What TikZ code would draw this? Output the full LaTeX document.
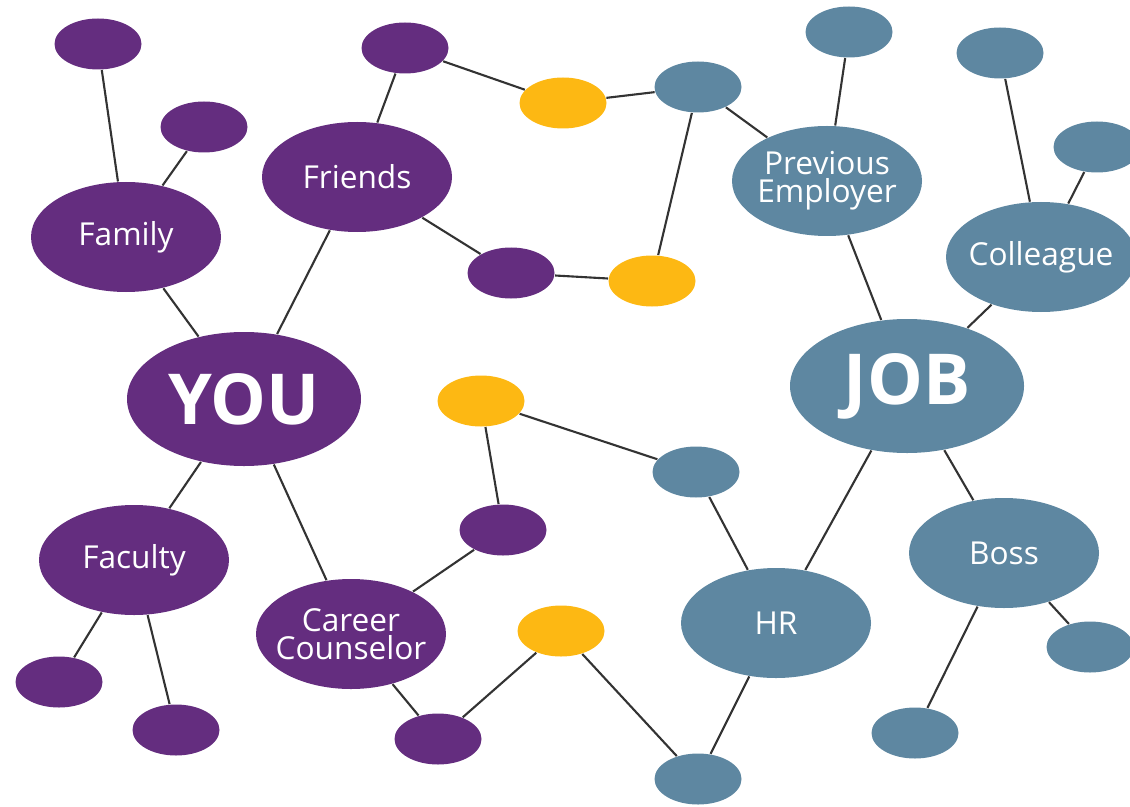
\documentclass[tikz,border=0pt]{standalone}
\usepackage{fontspec}
\setmainfont{Open Sans}
\usetikzlibrary{shapes.geometric}
\definecolor{youpurple}{RGB}{100,45,127}
\definecolor{jobblue}{RGB}{94,135,161}
\definecolor{linkgold}{RGB}{253,184,19}
\begin{document}
\begin{tikzpicture}[
    blob/.style={ellipse, inner sep=0pt, draw=none},
    small/.style={blob, minimum width=0.87cm, minimum height=0.51cm},
    mid/.style={blob, minimum width=1.9cm, minimum height=1.1cm},
    big/.style={blob, minimum width=2.34cm, minimum height=1.34cm},
    you/.style={fill=youpurple},
    job/.style={fill=jobblue},
    gold/.style={fill=linkgold},
    txt/.style={text=white, font=\fontsize{9}{8}\selectfont, align=center},
    bigtxt/.style={text=white, font=\bfseries\fontsize{20}{20}\selectfont},
    link/.style={draw=black!80, line width=0.6pt},
    ]
    \useasboundingbox (0,0) rectangle (11.3,-8.06);
    % you side
    \node[big, you, label={[bigtxt]center:YOU}] (you) at (2.44,-3.99) {};
    \node[mid, you, label={[txt]center:Family}] (family) at (1.26,-2.37) {};
    \node[mid, you, label={[txt]center:Friends}] (friends) at (3.57,-1.77) {};
    \node[mid, you, label={[txt]center:Faculty}] (faculty) at (1.34,-5.60) {};
    \node[mid, you, label={[txt]center:Career\\Counselor}] (counselor) at (3.51,-6.34) {};
    \node[small, you] (fam1) at (0.98,-0.44) {};
    \node[small, you] (fam2) at (2.04,-1.27) {};
    \node[small, you] (fr1) at (4.05,-0.48) {};
    \node[small, you] (fr2) at (5.11,-2.73) {};
    \node[small, you] (fac1) at (0.59,-6.82) {};
    \node[small, you] (fac2) at (1.76,-7.30) {};
    \node[small, you] (cc1) at (5.03,-5.30) {};
    \node[small, you] (cc2) at (4.38,-7.39) {};
    % links in between
    \node[small, gold] (link1) at (5.63,-1.03) {};
    \node[small, gold] (link2) at (6.52,-2.81) {};
    \node[small, gold] (link3) at (4.81,-4.01) {};
    \node[small, gold] (link4) at (5.61,-6.31) {};
    % job side
    \node[big, job, label={[bigtxt]center:JOB}] (job) at (9.07,-3.86) {};
    \node[mid, job, label={[txt]center:Previous\\Employer}] (prevemp) at (8.27,-1.81) {};
    \node[mid, job, label={[txt]center:Colleague}] (colleague) at (10.41,-2.57) {};
    \node[mid, job, label={[txt]center:HR}] (hr) at (7.76,-6.23) {};
    \node[mid, job, label={[txt]center:Boss}] (boss) at (10.04,-5.53) {};
    \node[small, job] (pe1) at (6.98,-0.87) {};
    \node[small, job] (pe2) at (8.49,-0.32) {};
    \node[small, job] (col1) at (10.00,-0.53) {};
    \node[small, job] (col2) at (10.97,-1.47) {};
    \node[small, job] (hr1) at (6.96,-4.72) {};
    \node[small, job] (hr2) at (6.98,-7.79) {};
    \node[small, job] (boss1) at (9.15,-7.33) {};
    \node[small, job] (boss2) at (10.90,-6.47) {};

    \draw[link] (fam1) -- (family);
    \draw[link] (fam2) -- (family);
    \draw[link] (family) -- (you);
    \draw[link] (friends) -- (you);
    \draw[link] (fr1) -- (friends);
    \draw[link] (friends) -- (fr2);
    \draw[link] (you) -- (faculty);
    \draw[link] (faculty) -- (fac1);
    \draw[link] (faculty) -- (fac2);
    \draw[link] (you) -- (counselor);
    \draw[link] (counselor) -- (cc1);
    \draw[link] (counselor) -- (cc2);
    \draw[link] (fr1) -- (link1) -- (pe1);
    \draw[link] (fr2) -- (link2) -- (pe1);
    \draw[link] (cc1) -- (link3) -- (hr1);
    \draw[link] (cc2) -- (link4) -- (hr2);
    \draw[link] (pe1) -- (prevemp);
    \draw[link] (pe2) -- (prevemp);
    \draw[link] (prevemp) -- (job);
    \draw[link] (col1) -- (colleague);
    \draw[link] (col2) -- (colleague);
    \draw[link] (colleague) -- (job);
    \draw[link] (hr1) -- (hr);
    \draw[link] (hr2) -- (hr);
    \draw[link] (hr) -- (job);
    \draw[link] (job) -- (boss);
    \draw[link] (boss) -- (boss1);
    \draw[link] (boss) -- (boss2);
\end{tikzpicture}
\end{document}
